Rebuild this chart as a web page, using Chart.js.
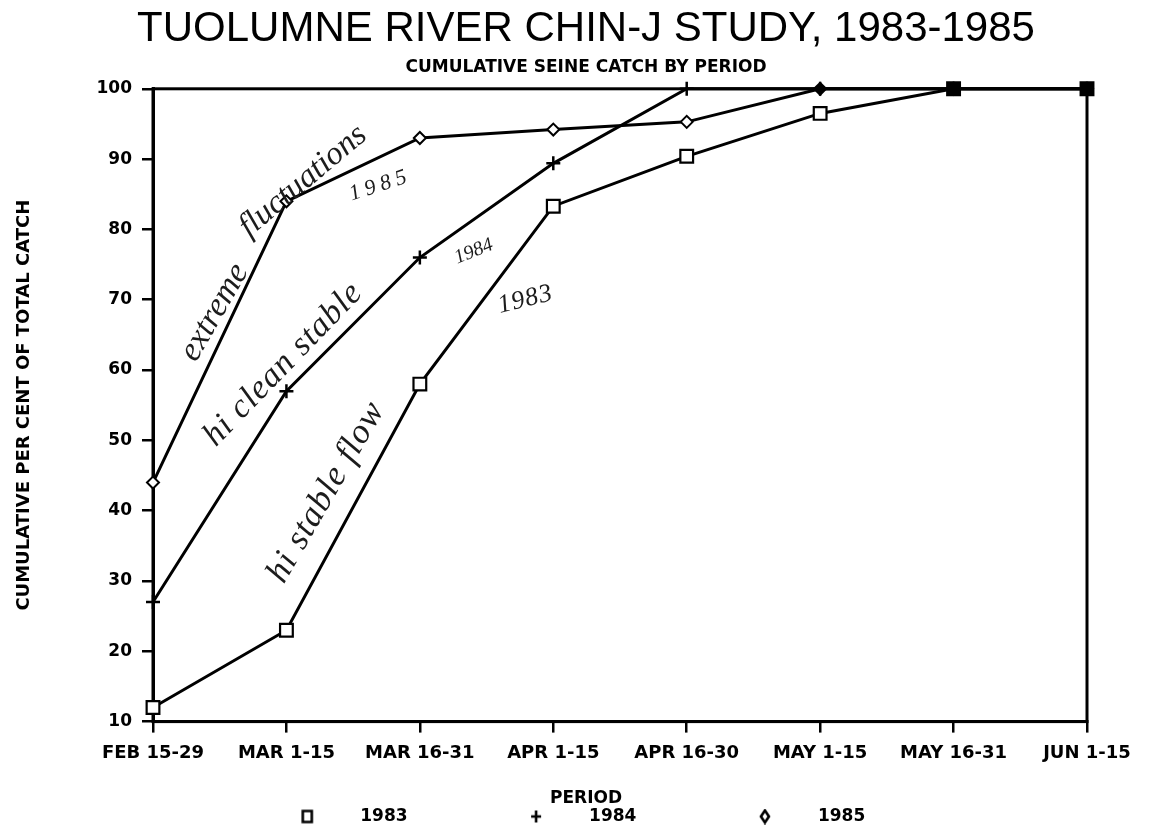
<!DOCTYPE html>
<html>
<head>
<meta charset="utf-8">
<script src="https://cdn.jsdelivr.net/npm/chart.js@4.4.1/dist/chart.umd.min.js"></script>
<style>
  html, body { margin: 0; padding: 0; background: #fff; }
  #wrap { width: 1152px; height: 827px; }
</style>
</head>
<body>
<div id="wrap"><canvas id="seineChart" width="1152" height="827"></canvas></div>
<script>
const periods = ['FEB 15-29', 'MAR 1-15', 'MAR 16-31', 'APR 1-15', 'APR 16-30', 'MAY 1-15', 'MAY 16-31', 'JUN 1-15'];
const catch1983 = [12, 23, 58, 83.3, 90.4, 96.5, 100, 100];
const catch1984 = [27, 57, 76, 89.4, 100, 100, 100, 100];
const catch1985 = [44, 84, 93, 94.2, 95.3, 100, 100, 100];
const yTicks = [10, 20, 30, 40, 50, 60, 70, 80, 90, 100];

// pencil notes written on the scan: text, period index, value, angle, size, spacing
const notes = [
  ['extreme', 0.32, 61.0, -60, 34, 0],
  ['fluctuations', 0.72, 78.8, -40, 33, 0],
  ['1985', 1.49, 84.1, -18, 22, 5],
  ['hi clean stable', 0.47, 49.0, -46, 34, 1],
  ['1984', 2.28, 75.1, -22, 20, 0],
  ['1983', 2.60, 68.1, -14, 26, 1],
  ['hi stable flow', 0.98, 29.5, -60, 35, 1]
];

Chart.defaults.font.family = 'DejaVu Sans';
Chart.defaults.color = '#000';

const bold = size => ({ family: 'DejaVu Sans', weight: 'bold', size });

// legend markers, drawn a bit left of the legend box centre
function legendMark(kind) {
  const c = document.createElement('canvas');
  c.width = 60; c.height = 16;
  const g = c.getContext('2d');
  const x = 8, y = 8;
  g.strokeStyle = '#000';
  g.lineWidth = 2.6;
  g.beginPath();
  if (kind === 'rect') {
    g.rect(x - 4.5, y - 5.5, 9, 11);
  } else if (kind === 'cross') {
    g.moveTo(x - 5, y); g.lineTo(x + 5, y);
    g.moveTo(x, y - 6); g.lineTo(x, y + 6);
  } else {
    g.moveTo(x, y - 6); g.lineTo(x + 4, y); g.lineTo(x, y + 6); g.lineTo(x - 4, y); g.closePath();
  }
  g.stroke();
  return c;
}
const legendMarks = [legendMark('rect'), legendMark('cross'), legendMark('diamond')];

const frame = {
  id: 'frame',
  beforeDatasetsDraw(chart) {
    const { ctx, chartArea: a } = chart;
    ctx.save();
    ctx.strokeStyle = '#000';
    ctx.lineWidth = 3;
    ctx.strokeRect(a.left, a.top, a.right - a.left, a.bottom - a.top);
    ctx.restore();
  }
};

const pencil = {
  id: 'pencil',
  afterDatasetsDraw(chart) {
    const { ctx, scales: { x, y } } = chart;
    ctx.save();
    ctx.fillStyle = '#1c1c1c';
    notes.forEach(([text, at, val, deg, size, spacing]) => {
      ctx.save();
      ctx.translate(x.getPixelForValue(at), y.getPixelForValue(val));
      ctx.rotate(deg * Math.PI / 180);
      ctx.font = 'italic ' + size + 'px "Liberation Serif"';
      ctx.letterSpacing = spacing + 'px';
      ctx.textAlign = 'left';
      ctx.textBaseline = 'alphabetic';
      ctx.fillText(text, 0, 0);
      ctx.restore();
    });
    ctx.restore();
  }
};

// markers that sit on the 100 line were overprinted solid on the plot
const line = (label, data, style, radius, width) => ({
  label,
  data,
  borderColor: '#000',
  borderWidth: 3,
  pointStyle: style,
  pointRadius: radius,
  pointHoverRadius: radius,
  pointBorderWidth: width,
  pointBorderColor: '#000',
  pointBackgroundColor: c => (c.raw >= 100 ? '#000' : '#fff'),
  tension: 0,
  clip: false
});

const tickGrid = { drawOnChartArea: false, color: '#000', lineWidth: 2.5, tickLength: 11 };

new Chart(document.getElementById('seineChart'), {
  type: 'line',
  data: {
    labels: periods,
    datasets: [
      line('1983', catch1983, 'rect', 9, 2.2),
      line('1984', catch1984, 'cross', 7, 2.5),
      line('1985', catch1985, 'rectRot', 6, 2)
    ]
  },
  options: {
    responsive: false,
    animation: false,
    layout: { padding: { left: 10, right: -10, top: 0, bottom: -8 } },
    scales: {
      x: {
        offset: false,
        grid: tickGrid,
        border: { color: '#000', width: 3 },
        ticks: { autoSkip: false, maxRotation: 0, padding: 10, color: '#000', font: bold(18) },
        afterFit: s => { s.height = 68; }
      },
      y: {
        min: 10,
        max: 100,
        afterBuildTicks: s => { s.ticks = yTicks.map(v => ({ value: v })); },
        grid: tickGrid,
        border: { color: '#000', width: 3 },
        ticks: { padding: 10, color: '#000', font: bold(17) },
        title: {
          display: true,
          text: 'CUMULATIVE PER CENT OF TOTAL CATCH',
          color: '#000',
          font: bold(18),
          padding: { top: 4, bottom: 0 }
        },
        afterFit: s => { s.width = 143; }
      },
      y2: {
        position: 'right',
        min: 10,
        max: 100,
        grid: { display: false },
        border: { display: false },
        ticks: { display: false },
        afterFit: s => { s.width = 75; }
      }
    },
    plugins: {
      title: {
        display: true,
        text: 'TUOLUMNE RIVER CHIN-J STUDY, 1983-1985',
        color: '#000',
        font: { family: 'Liberation Sans', size: 42, weight: 'normal' },
        padding: { top: 4, bottom: 0 }
      },
      subtitle: {
        display: true,
        text: 'CUMULATIVE SEINE CATCH BY PERIOD',
        color: '#000',
        font: bold(17),
        padding: { top: 3, bottom: 11 }
      },
      legend: {
        position: 'bottom',
        title: {
          display: true,
          text: 'PERIOD',
          color: '#000',
          font: bold(17),
          padding: { top: 0, bottom: -130 }
        },
        labels: {
          usePointStyle: true,
          pointStyleWidth: 45,
          padding: 128,
          color: '#000',
          font: bold(17),
          generateLabels: chart => chart.data.datasets.map((ds, i) => ({
            text: ds.label,
            pointStyle: legendMarks[i],
            fillStyle: '#000',
            strokeStyle: '#000',
            lineWidth: 0,
            hidden: false,
            datasetIndex: i
          }))
        }
      },
      tooltip: { enabled: false }
    }
  },
  plugins: [frame, pencil]
});
</script>
</body>
</html>
